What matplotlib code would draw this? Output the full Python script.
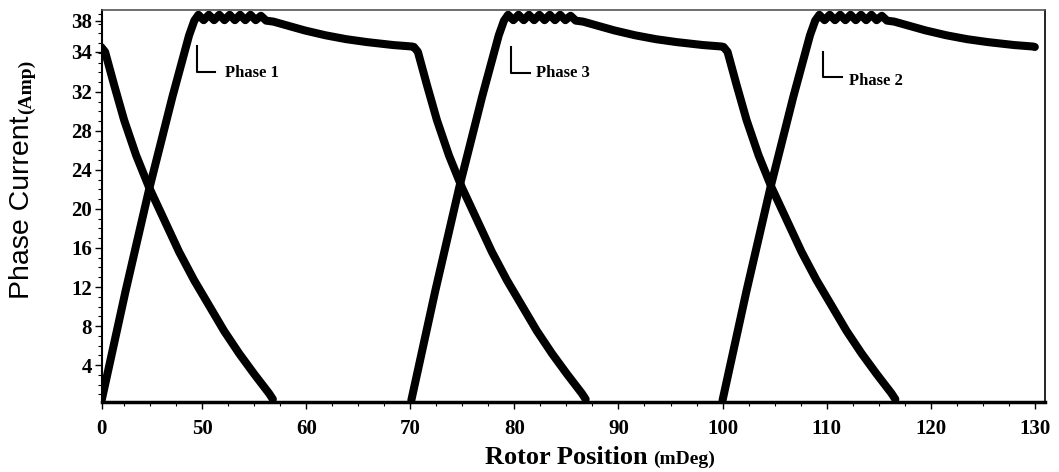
import numpy as np
import matplotlib.pyplot as plt
from matplotlib.ticker import MultipleLocator

# one phase current pulse, angle counted from turn-on (mDeg) and current (Amp)
wave_theta = [0.0, 2.3, 4.6, 6.8, 8.4, 8.9,
              9.3, 9.8, 10.3, 10.8, 11.3, 11.8, 12.3, 12.8, 13.3, 13.8,
              14.3, 14.8, 15.3, 15.8,
              16.5, 17.5, 19.5, 21.5, 23.5, 25.5, 28.0, 29.8,
              30.0, 30.38, 31.25, 32.21, 33.36, 34.61, 36.05, 37.49, 38.93,
              40.37, 41.81, 43.25, 44.69, 46.13, 46.5]
wave_amp = [0.4, 11.6, 22.2, 31.5, 37.8, 39.3,
            39.9, 39.35, 39.9, 39.35, 39.9, 39.35, 39.9, 39.35, 39.9, 39.35,
            39.9, 39.35, 39.8, 39.3,
            39.2, 38.9, 38.3, 37.8, 37.4, 37.1, 36.8, 36.65,
            36.6, 36.1, 32.7, 29.1, 25.5, 22.2, 18.9, 15.6, 12.7,
            10.1, 7.5, 5.2, 3.1, 1.1, 0.5]

# turn-on angles: tail of previous phase 2, phase 1, phase 3, phase 2
turn_on = [10.3, 40.35, 70.1, 100.0]
phase_names = ["Phase 1", "Phase 3", "Phase 2"]

x_ticks = [40.35, 50, 60, 70, 80, 90, 100, 110, 120, 130]
x_labels = ["0", "50", "60", "70", "80", "90", "100", "110", "120", "130"]
y_ticks = [4, 8, 12, 16, 20, 24, 28, 32, 36.1, 39.3]
y_labels = ["4", "8", "12", "16", "20", "24", "28", "32", "34", "38"]

serif = "Liberation Serif"

fig = plt.figure(figsize=(10.59, 4.72), dpi=100)
ax = fig.add_axes([0.096, 0.148, 0.891, 0.831])

for t0 in turn_on:
    x = np.array(wave_theta) + t0
    y = np.array(wave_amp)
    keep = x <= 130.2
    ax.plot(x[keep], y[keep], color="black", lw=5.8,
            solid_capstyle="round", solid_joinstyle="round")

ax.set_xlim(40.35, 131)
ax.set_ylim(0.2, 40.4)

ax.set_xticks(x_ticks)
ax.set_xticklabels(x_labels)
ax.set_yticks(y_ticks)
ax.set_yticklabels(y_labels)
ax.xaxis.set_minor_locator(MultipleLocator(2.5))
ax.yaxis.set_minor_locator(MultipleLocator(1))
ax.tick_params(which="major", direction="out", length=5, width=1)
ax.tick_params(which="minor", direction="out", length=3, width=0.8)
ax.tick_params(axis="x", which="major", pad=7)
ax.tick_params(axis="y", which="major", pad=2)
for lab in ax.get_xticklabels() + ax.get_yticklabels():
    lab.set_fontfamily(serif)
    lab.set_fontweight("bold")
    lab.set_fontsize(15)

ax.spines["top"].set_color("#555555")
ax.spines["top"].set_linewidth(1.2)
ax.spines["right"].set_linewidth(1.2)
ax.spines["left"].set_linewidth(1.5)
ax.spines["bottom"].set_linewidth(2.5)

# phase markers
marks = [(49.52, 36.75, 34.08, 51.28, 52.2, 33.5),
         (79.67, 36.65, 33.92, 81.52, 82.1, 33.5),
         (109.62, 36.13, 33.57, 111.44, 112.1, 32.7)]
for name, (xv, ytop, ybot, xh, xt, yt) in zip(phase_names, marks):
    ax.plot([xv, xv, xh], [ytop, ybot, ybot], color="black", lw=1.5)
    ax.text(xt, yt, name, fontfamily=serif, fontweight="bold",
            fontsize=12, va="baseline", ha="left")

# axis titles built from two fonts
fig.canvas.draw()
r = fig.canvas.get_renderer()

t1 = fig.text(485 / 1059, 8 / 472, "Rotor Position", fontfamily=serif,
              fontweight="bold", fontsize=19, va="baseline", ha="left")
bb = t1.get_window_extent(r)
fig.text((bb.x1 + 6) / 1059, 8 / 472, "(mDeg)", fontfamily=serif,
         fontweight="bold", fontsize=14, va="baseline", ha="left")

t2 = fig.text(22 / 1059, 173 / 472, "Phase Current", fontfamily="Liberation Sans",
              fontsize=20.5, rotation=90, ha="center", va="bottom")
bb = t2.get_window_extent(r)
fig.text(26 / 1059, (bb.y1 + 2) / 472, "(Amp)", fontfamily=serif,
         fontweight="bold", fontsize=14, rotation=90, ha="center", va="bottom")

fig.savefig("out.png", dpi=100)
